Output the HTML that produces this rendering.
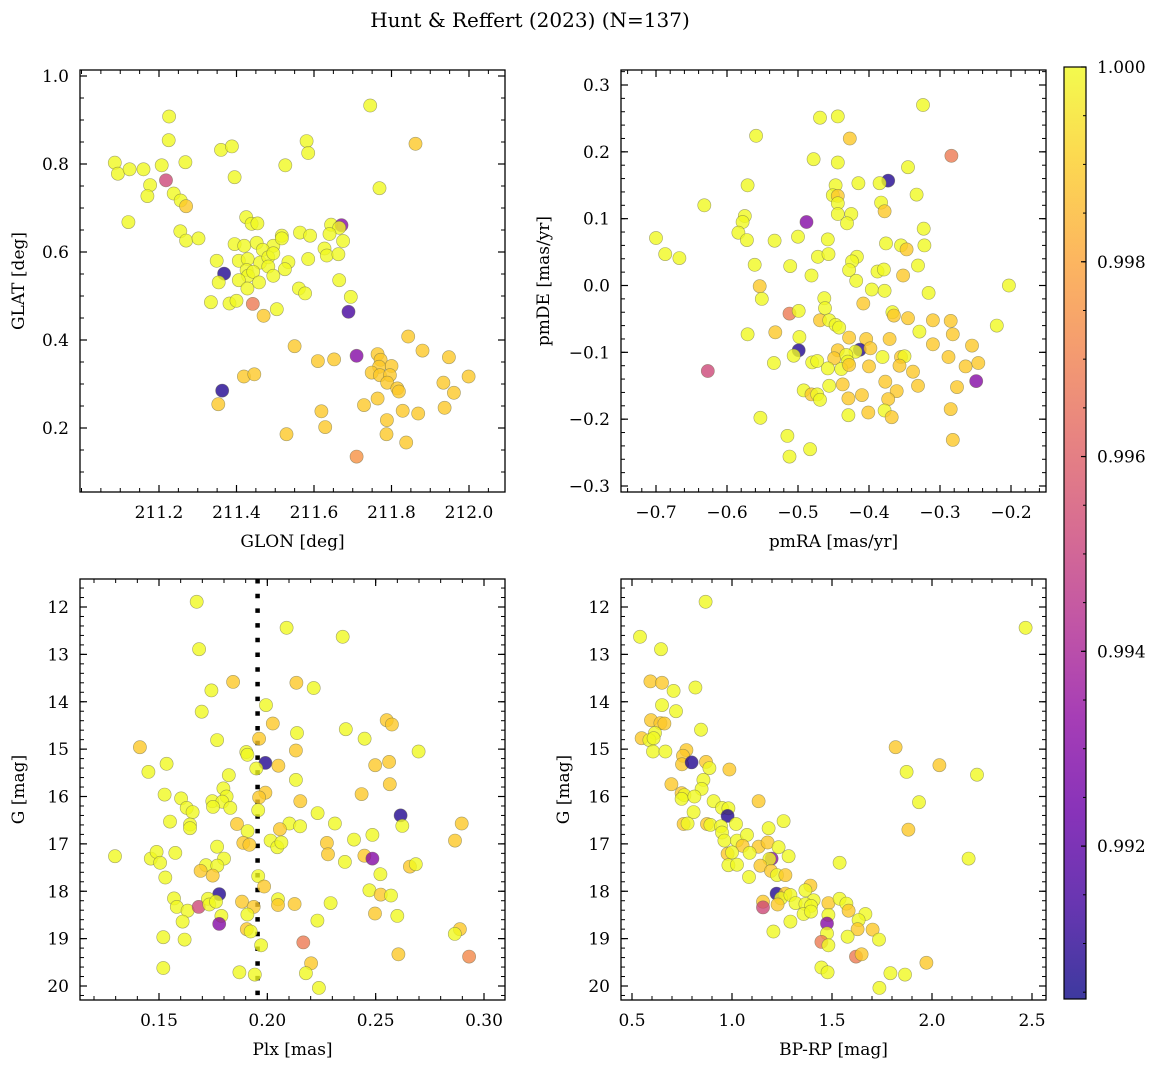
<!DOCTYPE html>
<html><head><meta charset="utf-8"><style>
html,body{margin:0;padding:0;background:#fff;}
svg{display:block;font-family:"DejaVu Serif","Liberation Serif",serif;}
</style></head><body>
<svg id="fig" width="1161" height="1067" viewBox="0 0 1161 1067" xmlns="http://www.w3.org/2000/svg">
<defs>
<linearGradient id="plasma" x1="0" y1="1" x2="0" y2="0">
<stop offset="0" stop-color="#0d0887"/><stop offset="0.1" stop-color="#41049d"/><stop offset="0.2" stop-color="#6a00a8"/><stop offset="0.3" stop-color="#8f0da4"/><stop offset="0.4" stop-color="#b12a90"/><stop offset="0.5" stop-color="#cc4778"/><stop offset="0.6" stop-color="#e16462"/><stop offset="0.7" stop-color="#f2844b"/><stop offset="0.8" stop-color="#fca636"/><stop offset="0.9" stop-color="#fcce25"/><stop offset="1" stop-color="#f0f921"/>
</linearGradient>
</defs>
<text x="530" y="27" font-size="20" text-anchor="middle">Hunt &amp; Reffert (2023) (N=137)</text>
</svg>
<script>
// ---------- data ----------
const tlGlon=[211.745,211.226,211.862,211.225,211.360,211.388,211.581,211.585,211.086,211.094,211.124,211.160,211.207,211.268,211.526,211.218,211.395,211.177,211.170,211.238,211.256,211.270,211.769,211.121,211.255,211.270,211.302,211.425,211.439,211.454,211.644,211.671,211.665,211.640,211.564,211.590,211.517,211.495,211.517,211.395,211.420,211.452,211.468,211.675,211.627,211.633,211.663,211.349,211.406,211.429,211.461,211.482,211.495,211.534,211.585,211.368,211.426,211.430,211.443,211.482,211.495,211.525,211.354,211.406,211.458,211.428,211.561,211.577,211.665,211.695,211.689,211.334,211.382,211.400,211.442,211.504,211.470,211.843,211.550,211.880,211.948,211.610,211.652,211.710,211.764,211.772,211.800,211.768,211.749,211.770,211.796,211.789,211.815,211.819,211.999,211.934,211.961,211.937,211.419,211.446,211.363,211.353,211.764,211.729,211.829,211.869,211.619,211.629,211.788,211.787,211.529,211.838,211.710];
const tlGlat=[0.933,0.908,0.846,0.854,0.832,0.840,0.852,0.825,0.803,0.778,0.788,0.788,0.797,0.804,0.797,0.763,0.770,0.752,0.727,0.733,0.717,0.704,0.745,0.668,0.647,0.626,0.631,0.679,0.664,0.665,0.662,0.661,0.655,0.641,0.644,0.637,0.637,0.614,0.631,0.618,0.614,0.621,0.605,0.625,0.608,0.592,0.595,0.580,0.580,0.584,0.576,0.588,0.597,0.577,0.584,0.551,0.559,0.546,0.555,0.567,0.546,0.561,0.531,0.536,0.531,0.517,0.517,0.506,0.536,0.498,0.464,0.486,0.483,0.489,0.482,0.470,0.455,0.408,0.386,0.376,0.361,0.352,0.356,0.364,0.368,0.355,0.341,0.339,0.326,0.320,0.320,0.303,0.290,0.283,0.317,0.303,0.280,0.246,0.317,0.322,0.285,0.254,0.267,0.252,0.239,0.233,0.238,0.202,0.218,0.186,0.186,0.167,0.135];
const tlProb=[1,1,.9989,1,1,1,1,1,1,1,1,1,1,1,1,.9952,1,1,1,1,1,.9989,1,1,1,1,1,1,1,1,1,.993,1,1,1,1,1,1,1,1,1,1,1,1,1,1,1,1,1,1,1,1,1,1,1,.9908,1,1,1,1,1,1,1,1,1,1,1,1,1,1,.9915,1,1,1,.9968,1,.9989,.9989,.9989,.9989,.9989,.9989,.9989,.993,.9989,.9989,.9989,.9989,.9989,.9989,.9989,.9989,.9989,.9989,.9989,.9989,.9989,.9989,.9989,.9989,.9908,.9989,.9989,.9989,.9989,.9989,.9989,.9989,.9989,.9989,.9989,.9989,.9975];

const trPmra=[-0.324,-0.469,-0.444,-0.559,-0.427,-0.284,-0.478,-0.444,-0.345,-0.373,-0.385,-0.415,-0.571,-0.447,-0.451,-0.444,-0.333,-0.444,-0.383,-0.378,-0.632,-0.575,-0.578,-0.444,-0.425,-0.431,-0.488,-0.323,-0.700,-0.584,-0.572,-0.533,-0.500,-0.458,-0.376,-0.355,-0.347,-0.322,-0.687,-0.667,-0.472,-0.457,-0.417,-0.424,-0.561,-0.511,-0.428,-0.388,-0.379,-0.331,-0.481,-0.352,-0.418,-0.203,-0.554,-0.396,-0.378,-0.316,-0.551,-0.463,-0.408,-0.462,-0.512,-0.499,-0.367,-0.365,-0.469,-0.456,-0.447,-0.442,-0.345,-0.310,-0.285,-0.329,-0.220,-0.571,-0.532,-0.498,-0.428,-0.404,-0.371,-0.282,-0.499,-0.506,-0.444,-0.413,-0.398,-0.419,-0.310,-0.255,-0.534,-0.480,-0.473,-0.449,-0.432,-0.430,-0.458,-0.439,-0.428,-0.381,-0.355,-0.350,-0.400,-0.357,-0.288,-0.264,-0.246,-0.338,-0.627,-0.249,-0.456,-0.437,-0.377,-0.331,-0.276,-0.492,-0.481,-0.473,-0.469,-0.361,-0.429,-0.410,-0.373,-0.553,-0.429,-0.401,-0.378,-0.368,-0.285,-0.515,-0.483,-0.512,-0.282];
const trPmde=[0.270,0.251,0.253,0.224,0.220,0.194,0.189,0.184,0.177,0.157,0.153,0.153,0.150,0.150,0.135,0.134,0.136,0.123,0.124,0.111,0.120,0.104,0.095,0.107,0.107,0.093,0.095,0.085,0.071,0.079,0.068,0.067,0.073,0.069,0.063,0.060,0.054,0.060,0.047,0.041,0.043,0.047,0.043,0.036,0.031,0.029,0.023,0.021,0.024,0.030,0.015,0.015,0.007,0.000,-0.001,-0.006,-0.008,-0.011,-0.020,-0.019,-0.027,-0.034,-0.042,-0.038,-0.040,-0.045,-0.052,-0.052,-0.059,-0.063,-0.049,-0.052,-0.053,-0.069,-0.060,-0.073,-0.070,-0.077,-0.078,-0.080,-0.080,-0.073,-0.097,-0.105,-0.097,-0.096,-0.094,-0.099,-0.088,-0.090,-0.116,-0.115,-0.113,-0.109,-0.104,-0.114,-0.124,-0.125,-0.119,-0.107,-0.107,-0.106,-0.121,-0.120,-0.107,-0.121,-0.116,-0.129,-0.128,-0.143,-0.150,-0.148,-0.144,-0.150,-0.152,-0.157,-0.163,-0.163,-0.171,-0.158,-0.169,-0.164,-0.170,-0.198,-0.194,-0.190,-0.187,-0.197,-0.185,-0.225,-0.245,-0.256,-0.231];
const trProb=[1,1,1,1,.9989,.9968,1,1,1,.9908,1,1,1,1,1,.9989,1,1,1,.9989,1,1,1,1,1,1,.993,1,1,1,1,1,1,1,1,1,.9989,1,1,1,1,1,1,1,1,1,1,1,1,1,1,.9989,1,1,.9989,1,1,1,1,1,.9989,1,.9968,1,1,.9989,.9989,1,1,1,.9989,.9989,.9989,1,1,1,.9989,1,.9989,.9989,.9989,.9989,.9908,1,.9989,.9908,.9989,1,.9989,.9989,1,1,1,.9989,1,1,1,1,.9989,1,.9989,1,.9989,.9989,.9989,.9989,.9989,.9989,.9952,.993,1,.9989,.9989,.9989,.9989,1,.9989,1,1,.9989,.9989,.9989,.9989,1,1,.9989,1,.9989,.9989,1,1,1,.9989];

const blPlx=[0.1674,0.2089,0.2348,0.1685,0.1842,0.2134,0.2214,0.1742,0.1994,0.1697,0.2025,0.2551,0.2575,0.2362,0.2137,0.2449,0.1768,0.1962,0.1412,0.2698,0.1903,0.1908,0.2132,0.1991,0.1949,0.2051,0.2498,0.2562,0.1535,0.1451,0.1822,0.2132,0.2565,0.1797,0.1526,0.1602,0.1812,0.1746,0.1792,0.1749,0.1829,0.1628,0.1655,0.1991,0.1962,0.1958,0.2152,0.2435,0.2232,0.2615,0.2623,0.2897,0.1551,0.1643,0.1643,0.1860,0.1909,0.2102,0.2151,0.2058,0.2312,0.2485,0.2866,0.2400,0.2275,0.2280,0.2015,0.2046,0.2065,0.1889,0.1917,0.1768,0.1297,0.1462,0.1489,0.1505,0.1575,0.1800,0.1717,0.1769,0.1692,0.1748,0.1529,0.2448,0.2485,0.2358,0.2658,0.2685,0.2522,0.1958,0.1985,0.2471,0.2523,0.2571,0.1778,0.1569,0.1582,0.1632,0.1683,0.1726,0.1732,0.1763,0.1883,0.1937,0.2049,0.2049,0.2126,0.2292,0.2497,0.2600,0.1788,0.1778,0.1908,0.1609,0.2231,0.1905,0.1923,0.2889,0.2865,0.1520,0.1618,0.2166,0.1971,0.2605,0.2931,0.2202,0.1520,0.1871,0.1942,0.2178,0.2238];
const blG=[11.89,12.44,12.63,12.89,13.58,13.60,13.71,13.76,14.07,14.21,14.46,14.39,14.48,14.58,14.66,14.78,14.81,14.78,14.96,15.05,15.06,15.12,15.03,15.29,15.41,15.35,15.34,15.27,15.31,15.48,15.55,15.65,15.74,15.83,15.96,16.04,16.00,16.10,16.11,16.22,16.24,16.24,16.33,15.92,16.02,16.29,16.10,15.95,16.35,16.40,16.62,16.57,16.53,16.59,16.67,16.58,16.73,16.57,16.63,16.69,16.57,16.81,16.93,16.91,16.98,17.22,16.93,17.07,16.97,16.98,17.02,17.06,17.26,17.31,17.17,17.40,17.19,17.31,17.45,17.46,17.57,17.67,17.71,17.25,17.31,17.38,17.48,17.43,17.64,17.68,17.90,17.98,18.07,18.09,18.06,18.15,18.33,18.41,18.33,18.16,18.28,18.22,18.22,18.33,18.17,18.29,18.27,18.25,18.47,18.52,18.52,18.69,18.49,18.64,18.62,18.80,18.85,18.80,18.90,18.97,19.02,19.08,19.14,19.33,19.38,19.52,19.62,19.71,19.76,19.73,20.04];
const blProb=[1,1,1,1,.9989,.9989,1,1,1,1,.9989,.9989,.9989,1,1,1,1,.9989,.9989,1,1,1,.9989,.9908,1,.9989,.9989,.9989,1,1,1,1,.9989,1,1,1,1,1,1,1,1,1,1,.9989,.9989,1,.9989,.9989,1,.9908,1,.9989,1,1,1,.9989,1,1,1,.9989,1,1,.9989,1,.9989,.9989,1,1,1,.9989,.9989,1,1,1,1,1,1,1,1,1,.9989,.9989,1,.9989,.993,1,.9989,1,1,1,.9989,1,.9989,1,.9908,1,1,1,.9952,1,1,1,.9989,.9989,1,.9989,.9989,1,.9989,1,1,.993,1,1,1,.9989,1,.9989,1,1,1,.9968,1,.9989,.9972,.9989,1,1,1,1,1];
const blPlxRef=[0.1955];

const brBpRp=[0.868,2.468,0.540,0.645,0.592,0.650,0.708,0.817,0.650,0.720,0.595,0.642,0.662,0.615,0.548,0.587,0.608,0.845,0.605,0.667,1.818,0.772,0.755,0.750,0.798,0.870,0.887,0.987,1.873,2.037,2.225,0.857,0.697,0.848,0.748,0.762,0.748,0.812,0.908,1.133,1.935,0.950,0.982,0.978,0.808,0.758,0.778,0.875,0.892,0.945,1.020,1.258,1.183,1.882,0.950,0.962,1.025,1.075,1.053,1.133,1.178,1.233,0.978,1.000,1.088,1.198,1.187,1.283,2.183,1.538,0.982,1.025,1.142,1.195,1.225,1.267,1.085,1.392,1.367,1.223,1.267,1.245,1.292,1.408,1.318,1.367,1.395,1.155,1.155,1.228,1.358,1.395,1.482,1.538,1.572,1.583,1.667,1.633,1.482,1.475,1.292,1.628,1.703,1.475,1.207,1.578,1.735,1.447,1.482,1.620,1.648,1.972,1.447,1.478,1.792,1.865,1.737];
const brG=[11.89,12.44,12.63,12.89,13.57,13.60,13.77,13.70,14.07,14.20,14.39,14.45,14.46,14.66,14.77,14.81,14.77,14.59,15.05,15.05,14.96,15.02,15.14,15.32,15.28,15.27,15.40,15.43,15.48,15.34,15.54,15.65,15.74,15.84,15.93,15.97,16.05,16.00,16.10,16.10,16.12,16.24,16.25,16.41,16.33,16.58,16.57,16.58,16.60,16.63,16.58,16.52,16.67,16.70,16.76,16.93,16.93,16.81,17.04,17.06,16.97,17.07,17.21,17.18,17.19,17.31,17.32,17.26,17.31,17.40,17.45,17.44,17.46,17.57,17.66,17.66,17.70,17.88,17.98,18.05,18.05,18.15,18.08,18.19,18.25,18.27,18.31,18.22,18.34,18.28,18.48,18.43,18.25,18.16,18.26,18.41,18.48,18.61,18.50,18.68,18.64,18.80,18.81,18.89,18.85,18.96,19.02,19.07,19.14,19.38,19.33,19.51,19.61,19.71,19.73,19.76,20.04];
const brProb=[1,1,1,1,.9989,.9989,1,1,1,1,.9989,.9989,.9989,1,.9989,1,1,1,1,1,.9989,.9989,.9989,.9989,.9908,.9989,1,.9989,1,.9989,1,1,.9989,1,.9989,1,1,1,1,.9989,1,1,1,.9908,1,.9989,1,.9989,1,1,1,1,1,.9989,1,1,1,1,.9989,.9989,.9989,1,.9989,1,1,.993,1,1,1,1,1,1,.9989,.9989,1,.9989,1,.9989,1,.9908,.9989,1,1,1,1,1,1,.9989,.9952,.9989,1,1,.9989,1,1,.9989,1,1,1,.993,1,.9989,.9989,1,1,1,1,.9968,1,.9968,.9989,.9989,1,1,1,1,1];

const cbTicks=[0.992,0.994,0.996,0.998,1.000];
const tlXTicks=[211.2,211.4,211.6,211.8,212.0], tlYTicks=[0.2,0.4,0.6,0.8,1.0];
const trXTicks=[-0.7,-0.6,-0.5,-0.4,-0.3,-0.2], trYTicks=[-0.3,-0.2,-0.1,0.0,0.1,0.2,0.3];
const blXTicks=[0.15,0.20,0.25,0.30], gTicks=[12,13,14,15,16,17,18,19,20];
const brXTicks=[0.5,1.0,1.5,2.0,2.5];

// ---------- rendering ----------
const NS="http://www.w3.org/2000/svg";
const svg=document.getElementById('fig');
const VMIN=0.99043, VMAX=1.0;
const stops=[[13,8,135],[65,4,157],[106,0,168],[143,13,164],[177,42,144],[204,71,120],[225,100,98],[242,132,75],[252,166,54],[252,206,37],[240,249,33]];
function cmap(v){let t=(v-VMIN)/(VMAX-VMIN);t=Math.max(0,Math.min(1,t))*10;const i=Math.min(9,Math.floor(t)),f=t-i;const a=stops[i],b=stops[i+1];return `rgb(${a.map((c,k)=>Math.round(c+(b[k]-c)*f)).join(',')})`;}
function el(tag,attrs,parent){const e=document.createElementNS(NS,tag);for(const k in attrs)e.setAttribute(k,attrs[k]);(parent||svg).appendChild(e);return e;}
function lin(d0,d1,p0,p1){return v=>p0+(v-d0)*(p1-p0)/(d1-d0);}
function fmt(v,dec){let s=v.toFixed(dec);if(v<0)s='\u2212'+s.slice(1);return s;}

function panel(c){
  const g=el('g',{});
  
  
  const sx=lin(c.xd[0],c.xd[1],c.xp[0],c.xp[1]), sy=lin(c.yd[0],c.yd[1],c.yp[0],c.yp[1]);
  const L=c.box[0],T=c.box[1],R=c.box[2],B=c.box[3];
  const clipId='clip-'+c.name;
  const cp=el('clipPath',{id:clipId},g);el('rect',{x:L,y:T,width:R-L,height:B-T},cp);
  const pts=el('g',{'clip-path':`url(#${clipId})`},g);
  
  
  if(c.vline){c.vline.forEach(v=>{const ln=el('line',{x1:sx(v),x2:sx(v),y1:T,y2:B,stroke:'#000','stroke-width':4.5,'stroke-dasharray':'4.5 10.2'},pts);
    
    });}
  const n=Math.min(c.x.length,c.y.length,c.p.length);
  for(let i=0;i<n;i++){
    const ci=el('circle',{cx:sx(c.x[i]).toFixed(1),cy:sy(c.y[i]).toFixed(1),r:6.6,fill:cmap(c.p[i]),'fill-opacity':0.8,stroke:'#6b6b4a','stroke-opacity':0.6,'stroke-width':0.6},pts);
    
    
  }
  // frame
  const fr=el('rect',{x:L,y:T,width:R-L,height:B-T,fill:'none',stroke:'#000','stroke-width':1.3},g);
  
  
  // minor ticks
  const lo=c.xd, mt=c.xminor;
  for(let v=Math.ceil(Math.min(...c.xrange)/mt)*mt; v<=Math.max(...c.xrange)+1e-9; v+=mt){const x=sx(v);if(x<L||x>R)continue;
    el('line',{x1:x,x2:x,y1:B,y2:B-4,stroke:'#000','stroke-width':1},g);el('line',{x1:x,x2:x,y1:T,y2:T+4,stroke:'#000','stroke-width':1},g);}
  for(let v=Math.ceil(Math.min(...c.yrange)/c.yminor)*c.yminor; v<=Math.max(...c.yrange)+1e-9; v+=c.yminor){const y=sy(v);if(y<T||y>B)continue;
    el('line',{x1:L,x2:L+4,y1:y,y2:y,stroke:'#000','stroke-width':1},g);el('line',{x1:R,x2:R-4,y1:y,y2:y,stroke:'#000','stroke-width':1},g);}
  c.xticks.forEach(v=>{const x=sx(v);
    el('line',{x1:x,x2:x,y1:B,y2:B-7,stroke:'#000','stroke-width':1.2},g);el('line',{x1:x,x2:x,y1:T,y2:T+7,stroke:'#000','stroke-width':1.2},g);
    const t=el('text',{x:x,y:B+26,'font-size':17,'text-anchor':'middle'},g);t.textContent=fmt(v,c.xdec);
    
    });
  c.yticks.forEach(v=>{const y=sy(v);
    el('line',{x1:L,x2:L+7,y1:y,y2:y,stroke:'#000','stroke-width':1.2},g);el('line',{x1:R,x2:R-7,y1:y,y2:y,stroke:'#000','stroke-width':1.2},g);
    const t=el('text',{x:L-11,y:y+6,'font-size':17,'text-anchor':'end'},g);t.textContent=fmt(v,c.ydec);
    
    });
  const xl=el('text',{x:(L+R)/2,y:B+55,'font-size':17,'text-anchor':'middle'},g);xl.textContent=c.xlabel;
  
  
  const yx=c.ylx, yy=(T+B)/2;
  const yl=el('text',{x:yx,y:yy,'font-size':17,'text-anchor':'middle',transform:`rotate(-90 ${yx} ${yy})`},g);yl.textContent=c.ylabel;
  
  
}

panel({name:'glon-glat-panel',box:[80,70,505,492],xd:[211.2,212.0],xp:[159,469],yd:[0.2,1.0],yp:[428,76],x:tlGlon,y:tlGlat,p:tlProb,
  xticks:tlXTicks,yticks:tlYTicks,xminor:0.05,yminor:0.05,xrange:[210.99,212.1],yrange:[0.05,1.02],xdec:1,ydec:1,xlabel:'GLON [deg]',ylabel:'GLAT [deg]',ylx:24});
panel({name:'pm-panel',box:[621,70,1046,492],xd:[-0.7,-0.2],xp:[656,1011],yd:[-0.3,0.3],yp:[486,85],x:trPmra,y:trPmde,p:trProb,
  xticks:trXTicks,yticks:trYTicks,xminor:0.02,yminor:0.02,xrange:[-0.76,-0.14],yrange:[-0.32,0.33],xdec:1,ydec:1,xlabel:'pmRA [mas/yr]',ylabel:'pmDE [mas/yr]',ylx:549});
panel({name:'plx-g-panel',box:[80,579,505,1000],xd:[0.15,0.30],xp:[159,484],yd:[12,20],yp:[607,986],x:blPlx,y:blG,p:blProb,vline:blPlxRef,
  xticks:blXTicks,yticks:gTicks,xminor:0.01,yminor:0.2,xrange:[0.11,0.31],yrange:[11.4,20.3],xdec:2,ydec:0,xlabel:'Plx [mas]',ylabel:'G [mag]',ylx:24});
panel({name:'cmd-panel',box:[621,579,1046,1000],xd:[0.5,2.5],xp:[632,1032],yd:[12,20],yp:[607,986],x:brBpRp,y:brG,p:brProb,
  xticks:brXTicks,yticks:gTicks,xminor:0.1,yminor:0.2,xrange:[0.4,2.6],yrange:[11.4,20.3],xdec:1,ydec:0,xlabel:'BP-RP [mag]',ylabel:'G [mag]',ylx:569});

// colorbar
const cb=el('g',{});


const cbTop=67,cbBot=999,cbL=1064,cbR=1086;
const cy=lin(VMIN,VMAX,cbBot,cbTop);
el('rect',{x:cbL,y:cbTop,width:cbR-cbL,height:cbBot-cbTop,fill:'url(#plasma)','fill-opacity':0.8},cb);
el('rect',{x:cbL,y:cbTop,width:cbR-cbL,height:cbBot-cbTop,fill:'none',stroke:'#000','stroke-width':1.2},cb);
for(let v=0.9905;v<=1.00001;v+=0.0005){const y=cy(v);el('line',{x1:cbR,x2:cbR-3,y1:y,y2:y,stroke:'#000','stroke-width':1},cb);}
cbTicks.forEach(v=>{const y=cy(v);el('line',{x1:cbR,x2:cbR-5,y1:y,y2:y,stroke:'#000','stroke-width':1.2},cb);
  const t=el('text',{x:1097,y:y+6,'font-size':17},cb);t.textContent=v.toFixed(3);
  
  });
</script>
</body></html>
